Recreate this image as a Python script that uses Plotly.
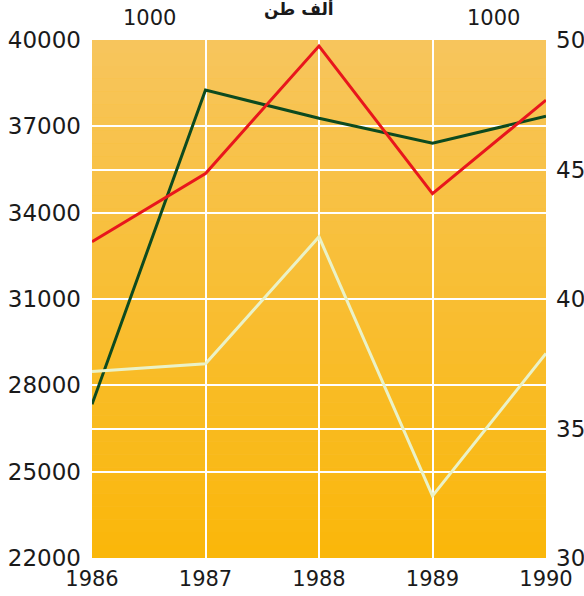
import plotly.graph_objects as go

years = [1986, 1987, 1988, 1989, 1990]
red_vals = [32990, 35360, 39790, 34660, 37910]      # left axis (1000 t)
green_vals = [27340, 38260, 37280, 36410, 37350]    # left axis (1000 t)
light_vals = [37.2, 37.5, 42.4, 32.4, 37.9]         # right axis

left_ticks = [22000, 25000, 28000, 31000, 34000, 37000, 40000]
right_ticks = [30, 35, 40, 45, 50]

fig = go.Figure()
fig.add_trace(go.Scatter(x=years, y=light_vals, yaxis="y2", mode="lines",
                         line=dict(color="#EAF2C8", width=3)))
fig.add_trace(go.Scatter(x=years, y=green_vals, mode="lines",
                         line=dict(color="#0D4A1F", width=3)))
fig.add_trace(go.Scatter(x=years, y=red_vals, mode="lines",
                         line=dict(color="#E8161C", width=3)))

# background gradient, light orange at top to deep yellow at bottom
n = 40
top = (247, 197, 92)
bot = (250, 183, 10)
shapes = []
for i in range(n):
    t = i / (n - 1)
    c = tuple(round(top[k] + (bot[k] - top[k]) * t) for k in range(3))
    shapes.append(dict(type="rect", xref="x domain", yref="y domain",
                       x0=0, x1=1, y0=1 - (i + 1) / n, y1=1 - i / n,
                       fillcolor="rgb(%d,%d,%d)" % c, line=dict(width=0),
                       layer="below"))

tick_font = dict(family="DejaVu Sans", size=23, color="#1a1a1a")

fig.update_layout(
    width=584, height=596,
    margin=dict(l=92, r=38, t=40, b=38, autoexpand=False),
    paper_bgcolor="white", plot_bgcolor="#F9BF3A",
    showlegend=False,
    shapes=shapes,
    xaxis=dict(range=[1986, 1990], tickvals=years, ticktext=[str(y) for y in years],
               showgrid=True, gridcolor="white", gridwidth=2, zeroline=False,
               showline=False, ticks="", ticklabelstandoff=6,
               tickfont=dict(family="DejaVu Sans", size=21, color="#1a1a1a")),
    yaxis=dict(range=[22000, 40000], tickvals=left_ticks, ticktext=[str(v) for v in left_ticks],
               showgrid=True, gridcolor="white", gridwidth=2, zeroline=False,
               showline=False, ticks="", ticklabelstandoff=10, tickfont=tick_font),
    yaxis2=dict(range=[30, 50], tickvals=right_ticks, overlaying="y", side="right",
                showgrid=True, gridcolor="white", gridwidth=2, zeroline=False,
                showline=False, ticks="", ticklabelstandoff=9, tickfont=tick_font),
    annotations=[
        dict(text="1000", xref="paper", yref="paper", x=0.064, y=1, yshift=22,
             yanchor="middle", showarrow=False,
             font=dict(family="DejaVu Sans", size=21, color="#1a1a1a")),
        dict(text="1000", xref="paper", yref="paper", x=0.947, y=1, yshift=22,
             yanchor="middle", showarrow=False,
             font=dict(family="DejaVu Sans", size=21, color="#1a1a1a")),
        dict(text="<b>ألف طن</b>", xref="paper", yref="paper", x=0.455, y=1, yshift=31,
             yanchor="middle", showarrow=False,
             font=dict(family="DejaVu Sans", size=17, color="#1a1a1a")),
    ],
)

# drop the default body margin so the figure fills the window exactly
fig.write_html("out.html", config={"displayModeBar": False},
               post_script="document.body.style.margin='0';document.body.style.overflow='hidden';")
